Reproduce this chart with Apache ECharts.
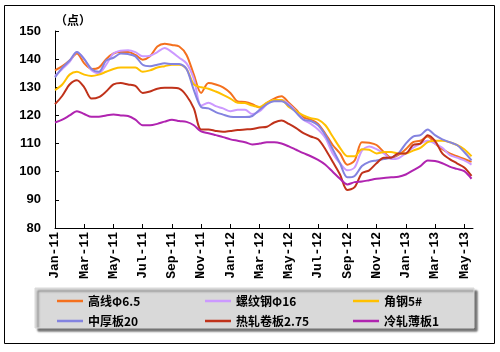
<!DOCTYPE html>
<html>
<head>
<meta charset="utf-8">
<script src="https://cdn.jsdelivr.net/npm/echarts@6/dist/echarts.min.js"></script>
<style>
  html, body { margin: 0; padding: 0; background: #fff; }
  #chart { width: 500px; height: 352px; }
</style>
</head>
<body>
<div id="chart"></div>
<script>
// half-month samples, Jan-11 .. late May-13
let step = 0.5;
let tickLabels = ['Jan-11', 'Mar-11', 'May-11', 'Jul-11', 'Sep-11', 'Nov-11', 'Jan-12', 'Mar-12',
  'May-12', 'Jul-12', 'Sep-12', 'Nov-12', 'Jan-13', 'Mar-13', 'May-13'];
let names = ['高线Φ6.5', '螺纹钢Φ16', '角钢5#', '中厚板20', '热轧卷板2.75', '冷轧薄板1'];
let colors = ['#F4701E', '#CC99FF', '#FFC000', '#8383E0', '#C0321A', '#B024B0'];

let gaoxian = [136, 137.5, 139.5, 142, 138.5, 136.5, 137, 140, 142, 142.5,
  142.5, 141.5, 139.8, 141, 144.5, 145.5, 145, 144.5, 141.5, 134.5,
  128, 131.5, 131, 130, 128, 125, 124.8, 124, 122.8, 124.5,
  126, 126.8, 124.5, 122, 119.3, 118.5, 117, 113.5, 109.5, 106.5,
  102.5, 104, 110.5, 110.3, 109.5, 107, 105, 106, 108, 110.5,
  111, 112.5, 110, 108, 106.5, 105.5, 104.5, 103.5];
let luowen = [134, 136.5, 139, 142.5, 140, 136, 135, 138, 142, 143,
  143.2, 142.5, 141, 141.2, 142.5, 144, 142.5, 140.5, 138.5, 133,
  123.5, 124.5, 123.3, 122.5, 121.5, 122, 122, 120.5, 121.5, 124,
  125.5, 125.5, 124, 121.5, 118.5, 117, 115, 112, 106.5, 103,
  100.5, 101.5, 107.5, 109, 108, 106.5, 104.5, 104.8, 106.5, 108.5,
  110, 111, 110, 108.5, 106, 105, 104, 102.5];
let jiaogang = [129, 131, 134.5, 135.5, 134.5, 134, 134.5, 135.5, 136.5, 137,
  137, 137, 135.5, 136, 137, 137.5, 138, 138, 136.5, 131,
  130, 129.5, 128.5, 127.3, 126, 124.5, 124.4, 123.5, 123, 124.5,
  125.5, 125.5, 123, 121.5, 120, 119, 118.5, 116.5, 112.5, 108.5,
  105.5, 105.5, 108, 107.8, 106.5, 107, 107, 106.5, 106.5, 107.5,
  108.5, 110.5, 111, 111, 110.5, 109.5, 108, 105.5];
let zhonghou = [133.5, 137, 139.5, 142.5, 140, 136.5, 135.5, 139.5, 140.5, 142,
  141.8, 141, 138, 137.5, 138, 138.5, 138.3, 138.3, 136.5, 129,
  123, 122.5, 121.2, 120.3, 119.5, 119.4, 119.4, 119.8, 122, 124,
  125, 125, 123.5, 121, 118.5, 118, 116.5, 113, 108, 103,
  98, 98.5, 102, 103.5, 104, 104.5, 105, 106.5, 110, 112.5,
  113, 115, 113, 111.5, 110.5, 109.5, 107, 104];
let rezha = [124, 127, 131, 132.5, 130, 126, 126.5, 128.5, 131, 131.5,
  131, 130.5, 128, 128.5, 129.5, 129.8, 129.8, 129.5, 127, 122.5,
  115, 115, 114.5, 114.2, 114.5, 114.8, 115, 115.2, 115.7, 116,
  117.5, 118.2, 117, 115.5, 113.7, 112.5, 111.5, 108, 103.5, 99,
  93.5, 94.5, 99.5, 100.5, 103, 105, 105, 106.5, 106.5, 109.5,
  110, 113, 111, 106.5, 104.5, 103, 101.5, 98.5];
let lengzha = [117.5, 118.5, 120, 121.5, 120.5, 119.5, 119.5, 120, 120.3, 120,
  119.8, 118.5, 116.5, 116.5, 117, 117.8, 118.5, 118, 117.7, 116.5,
  114.3, 113.7, 113, 112.3, 111.5, 111, 110.5, 109.7, 110, 110.5,
  110.5, 110, 109, 107.8, 106.6, 105.5, 104.2, 102.5, 100, 97.5,
  95.5, 96.3, 96.5, 97, 97.5, 97.8, 98, 98.2, 99, 100.5,
  102, 104, 103.8, 103, 101.8, 101, 100.2, 97.5];

let allSeries = [gaoxian, luowen, jiaogang, zhonghou, rezha, lengzha];
let tickValues = tickLabels.map((t, i) => i * 2);

let myChart = echarts.init(document.getElementById('chart'));

let option = {
  backgroundColor: '#fff',
  animation: false,
  graphic: [
    {
      type: 'rect', z: -10,
      shape: { x: 4.5, y: 5.5, width: 490, height: 338 },
      style: { fill: '#fff', stroke: '#000', lineWidth: 1 }
    },
    {
      type: 'rect', z: -5,
      shape: { x: 35, y: 288, width: 439, height: 40 },
      style: {
        fill: '#D9D9D9', stroke: '#D9D9D9',
        shadowBlur: 2, shadowOffsetX: 3, shadowOffsetY: 3, shadowColor: 'rgba(0,0,0,0.55)'
      }
    }
  ],
  grid: { left: 55, right: 27, top: 31, bottom: 124 },
  legend: {
    data: names,
    left: 57,
    top: 291,
    width: 450,
    padding: 0,
    itemGap: 0,
    icon: 'rect',
    itemWidth: 26,
    itemHeight: 2.5,
    textStyle: {
      width: 117,
      lineHeight: 20,
      fontSize: 12,
      fontWeight: 'bold',
      color: '#000',
      fontFamily: 'Noto Sans CJK SC'
    }
  },
  xAxis: {
    type: 'value',
    min: 0,
    max: 28.6,
    interval: 2,
    splitLine: { show: false },
    axisLine: { lineStyle: { color: '#000', width: 1 } },
    axisTick: { inside: true, length: 4, lineStyle: { color: '#000' }, customValues: tickValues },
    axisLabel: {
      customValues: tickValues,
      rotate: 90,
      margin: 4,
      color: '#000',
      fontSize: 13,
      fontWeight: 'bold',
      fontFamily: 'Liberation Mono',
      formatter: function (v) { return tickLabels[Math.round(v / 2)] || ''; }
    }
  },
  yAxis: {
    type: 'value',
    min: 80,
    max: 150,
    interval: 10,
    name: '（点）',
    nameGap: 5,
    nameTextStyle: {
      align: 'left',
      color: '#000',
      fontSize: 12,
      fontWeight: 'bold',
      fontFamily: 'Noto Sans CJK SC'
    },
    splitLine: { show: false },
    axisLine: { show: true, lineStyle: { color: '#000', width: 1 } },
    axisTick: { show: true, inside: true, length: 4, lineStyle: { color: '#000' } },
    axisLabel: {
      margin: 14,
      color: '#000',
      fontSize: 13,
      fontWeight: 'bold',
      fontFamily: 'Liberation Sans'
    }
  },
  series: allSeries.map((vals, k) => ({
    name: names[k],
    type: 'line',
    symbol: 'none',
    smooth: 0.3,
    color: colors[k],
    lineStyle: { width: 2, color: colors[k] },
    data: vals.map((v, i) => [i * step, v])
  }))
};

option && myChart.setOption(option);
</script>
</body>
</html>
